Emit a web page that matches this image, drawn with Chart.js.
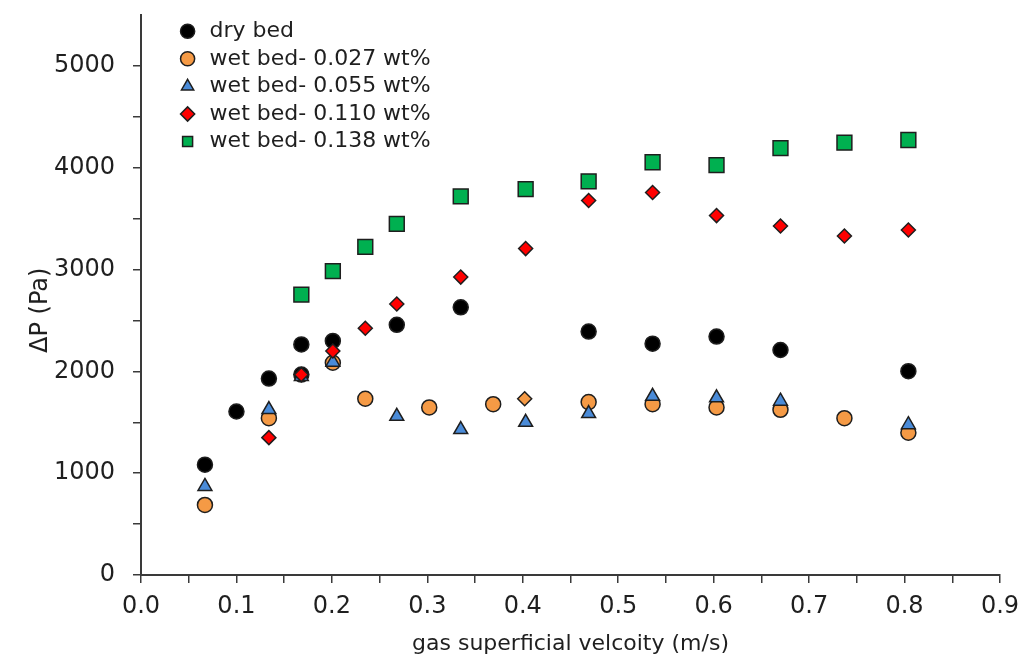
<!DOCTYPE html>
<html lang="en">

<head>
    <meta charset="UTF-8">
    <title>Pressure drop vs gas superficial velocity</title>
    <script src="https://cdn.jsdelivr.net/npm/chart.js"></script>
    <style>
        body { margin: 0; background: #fff; }
        #wrap { width: 1035px; height: 661px; }
    </style>
</head>

<body>
    <div id="wrap"><canvas id="dpChart"></canvas></div>

    <script>
        // values (velocity m/s, pressure drop Pa)
        const seriesNames = ['dry bed', 'wet bed- 0.027 wt%', 'wet bed- 0.055 wt%', 'wet bed- 0.110 wt%', 'wet bed- 0.138 wt%'];

        const dryBed = [
            [0.067, 1084], [0.100, 1606], [0.134, 1929], [0.168, 2265], [0.168, 1968], [0.201, 2299],
            [0.268, 2457], [0.335, 2629], [0.469, 2391], [0.536, 2272], [0.603, 2342], [0.670, 2210], [0.804, 2002]
        ];
        const wet027 = [
            [0.067, 688], [0.134, 1540], [0.201, 2085], [0.235, 1731], [0.302, 1646], [0.369, 1678],
            [0.469, 1698], [0.536, 1678], [0.603, 1646], [0.670, 1622], [0.737, 1540], [0.804, 1398]
        ];
        const wet055 = [
            [0.067, 870], [0.134, 1625], [0.168, 1950], [0.201, 2090], [0.268, 1558], [0.335, 1428],
            [0.403, 1500], [0.469, 1585], [0.536, 1755], [0.603, 1740], [0.670, 1707], [0.804, 1476]
        ];
        const wet110 = [
            [0.134, 1349], [0.168, 1968], [0.201, 2200], [0.235, 2424], [0.268, 2661], [0.335, 2926],
            [0.403, 3206], [0.469, 3678], [0.536, 3757], [0.603, 3530], [0.670, 3428], [0.737, 3329], [0.804, 3388]
        ];
        // the one orange-filled diamond near 0.4 m/s
        const wet110Odd = [[0.402, 1731]];
        const wet138 = [
            [0.168, 2754], [0.201, 2985], [0.235, 3223], [0.268, 3448], [0.335, 3718], [0.403, 3790],
            [0.469, 3866], [0.536, 4054], [0.603, 4025], [0.670, 4193], [0.737, 4246], [0.804, 4272]
        ];

        const toXY = arr => arr.map(p => ({ x: p[0], y: p[1] }));
        const edge = '#1e1e1e';
        const font = 'DejaVu Sans';
        const textColor = '#1f1f1f';
        const axisColor = '#3a3a3a';

        // put the vertical legend inside the plot, top-left
        const legendSpot = {
            id: 'legendSpot',
            afterLayout(chart) {
                const lg = chart.legend;
                if (!lg) return;
                lg.left = 171;
                lg.top = 14.6;
            }
        };

        const ctx = document.getElementById('dpChart').getContext('2d');
        new Chart(ctx, {
            type: 'scatter',
            data: {
                datasets: [
                    { label: seriesNames[0], data: toXY(dryBed), pointStyle: 'circle', pointRadius: 7.5,
                      backgroundColor: '#000000', borderColor: edge, borderWidth: 1.5, order: 6 },
                    { label: seriesNames[1], data: toXY(wet027), pointStyle: 'circle', pointRadius: 7.5,
                      backgroundColor: '#F59A45', borderColor: edge, borderWidth: 1.5, order: 5 },
                    { label: seriesNames[2], data: toXY(wet055), pointStyle: 'triangle', pointRadius: 8,
                      backgroundColor: '#4A8BD8', borderColor: edge, borderWidth: 1.5, order: 4 },
                    { label: seriesNames[3], data: toXY(wet110), pointStyle: 'rectRot', pointRadius: 7,
                      backgroundColor: '#FF0000', borderColor: edge, borderWidth: 1.5, order: 3 },
                    { label: '', data: toXY(wet110Odd), pointStyle: 'rectRot', pointRadius: 7,
                      backgroundColor: '#F59A45', borderColor: edge, borderWidth: 1.5, order: 2 },
                    { label: seriesNames[4], data: toXY(wet138), pointStyle: 'rect', pointRadius: 10.5,
                      backgroundColor: '#00B050', borderColor: edge, borderWidth: 1.5, order: 1 }
                ]
            },
            options: {
                responsive: true,
                maintainAspectRatio: false,
                animation: false,
                layout: { padding: { left: 0, right: 35, top: 15, bottom: 0 } },
                scales: {
                    x: {
                        type: 'linear',
                        min: 0,
                        max: 0.9,
                        afterFit: scale => { scale.height = 86; },
                        border: { color: axisColor, width: 2 },
                        grid: { drawOnChartArea: false, drawTicks: true, tickLength: 8, color: axisColor, lineWidth: 1.5 },
                        ticks: {
                            stepSize: 0.05,
                            autoSkip: false,
                            maxRotation: 0,
                            padding: 9,
                            color: textColor,
                            font: { family: font, size: 24 },
                            callback: v => (Math.round(v * 100) % 10 === 0 ? v.toFixed(1) : '')
                        },
                        title: {
                            display: true,
                            text: 'gas superficial velcoity (m/s)',
                            color: textColor,
                            font: { family: font, size: 22 },
                            padding: { top: 0, bottom: 4 }
                        }
                    },
                    y: {
                        min: 0,
                        max: 5500,
                        afterFit: scale => { scale.width = 141; scale.paddingTop = 0; },
                        afterBuildTicks: scale => { scale.ticks = scale.ticks.filter(t => t.value <= 5000); },
                        border: { color: axisColor, width: 2 },
                        grid: { drawOnChartArea: false, drawTicks: true, tickLength: 8, color: axisColor, lineWidth: 1.5 },
                        ticks: {
                            stepSize: 500,
                            autoSkip: false,
                            padding: 18,
                            color: textColor,
                            font: { family: font, size: 24 },
                            callback: v => (v % 1000 === 0 ? v : '')
                        },
                        title: {
                            display: true,
                            // trailing spaces nudge the rotated label a little lower, as in the figure
                            text: 'ΔP (Pa)    ',
                            color: textColor,
                            font: { family: font, size: 24 },
                            padding: { top: 26, bottom: 0 }
                        }
                    }
                },
                plugins: {
                    legend: {
                        position: 'chartArea',
                        align: 'start',
                        labels: {
                            usePointStyle: true,
                            boxWidth: 22,
                            boxHeight: 10,
                            padding: 5.6,
                            color: textColor,
                            font: { family: font, size: 22, lineHeight: 1.2 },
                            filter: item => item.text !== '',
                            sort: (a, b) => a.datasetIndex - b.datasetIndex
                        }
                    },
                    tooltip: { enabled: false }
                }
            },
            plugins: [legendSpot]
        });
    </script>
</body>

</html>
